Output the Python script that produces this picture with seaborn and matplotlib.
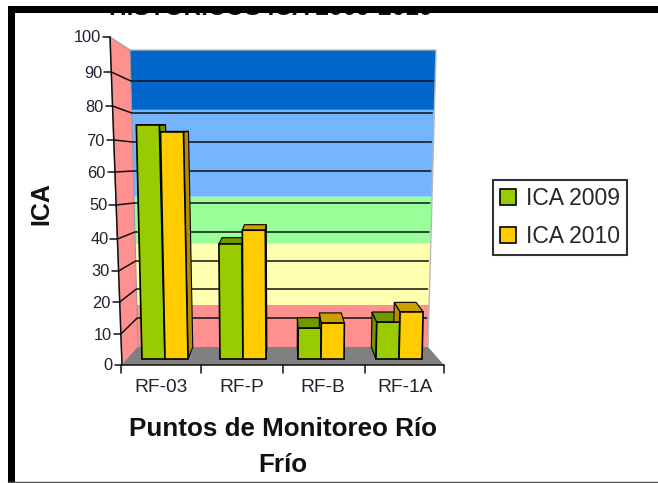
import numpy as np
import pandas as pd
import matplotlib
matplotlib.use("Agg")
import matplotlib.pyplot as plt
from matplotlib.patches import Polygon, Rectangle
from matplotlib.transforms import Affine2D
import seaborn as sns

sns.set_style("white")
plt.rcParams['font.family'] = ['Liberation Sans', 'DejaVu Sans']

# Data
puntos = ['RF-03', 'RF-P', 'RF-B', 'RF-1A']
ica_2009 = [73.6, 36.2, 9.7, 11.6]
ica_2010 = [71.4, 40.5, 11.3, 14.8]
series_names = ['ICA 2009', 'ICA 2010']
y_ticks = [0, 10, 20, 30, 40, 50, 60, 70, 80, 90, 100]
band_edges = [0, 14.5, 36, 52, 81, 100]
band_colors = ['#FF9090', '#FFFFB0', '#99FF99', '#75B5FF', '#0066CC']

# Pixel geometry of the fake 3D box
W, H = 658, 483
FRONT_Y = [365, 334, 302, 271, 239, 205, 172, 140, 106, 72, 37]
WALL_Y = [347, 318, 289, 261, 232, 203, 171, 142, 113, 81, 50]
VP = np.array([283.0, 120.0])
DEPTH = 0.05

df = pd.DataFrame({
    'punto': puntos * 2,
    'ica': ica_2009 + ica_2010,
    'serie': [series_names[0]] * 4 + [series_names[1]] * 4,
})

fig = plt.figure(figsize=(W / 100, H / 100), dpi=100, facecolor='white')
bg = fig.add_axes([0, 0, 1, 1], zorder=0)
bg.set_xlim(0, W)
bg.set_ylim(H, 0)
bg.axis('off')

def front_xy(v):
    y = np.interp(v, y_ticks, FRONT_Y)
    return 122 - 12 * (365 - y) / 328, y

def wall_xy(v):
    y = np.interp(v, y_ticks, WALL_Y)
    off = 8 * (347 - y) / 297
    return 138 - off, 428 + off, y

# back wall bands
for lo, hi, c in zip(band_edges[:-1], band_edges[1:], band_colors):
    l0, r0, y0 = wall_xy(lo)
    l1, r1, y1 = wall_xy(hi)
    bg.add_patch(Polygon([(l0, y0), (r0, y0), (r1, y1), (l1, y1)], fc=c, ec='none', zorder=1))
bg.plot([130, 436, 428], [50, 50, 347], color='#b8b8b8', lw=1, zorder=1.5)

# left wall and floor
bg.add_patch(Polygon([(110, 37), (130, 50), (138, 347), (122, 365)], fc='#FF9090', ec='#999999', lw=0.8, zorder=2))
bg.add_patch(Polygon([(122, 365), (444, 365), (428, 347), (138, 347)], fc='#808080', ec='none', zorder=2))

# grid, axis ticks and labels
for v in y_ticks:
    fx, fy = front_xy(v)
    bg.plot([fx - 7, fx], [fy, fy], color='#111111', lw=1.1, zorder=3)
    bg.text(fx - 9, fy + 1, str(v), ha='right', va='center', fontsize=11.8, color='#222233', zorder=3)
    if 0 < v < 100:
        l, r, y = wall_xy(v)
        bg.plot([fx, l, r - 2], [fy, y, y], color='#111111', lw=1.1, zorder=3)
bg.plot([110, 122, 444], [37, 365, 365], color='#111111', lw=1.1, zorder=3)
for x in [121, 201, 283, 365, 444]:
    bg.plot([x, x], [365, 373], color='#111111', lw=1.1, zorder=3)
for x, lab in zip([161, 242, 323, 405], puntos):
    bg.text(x, 388, lab, ha='center', va='center', fontsize=13.8, color='#222233')

# bars on the plane a little behind the front edge
ax = fig.add_axes([126 / W, (H - 359) / H, 312 / W, 318 / H], zorder=1)
ax.patch.set_alpha(0)
sns.barplot(data=df, x='punto', y='ica', hue='serie', order=puntos, hue_order=series_names,
            palette=['#99CC00', '#FFCC00'], saturation=1, width=0.59, gap=0,
            edgecolor='black', linewidth=1.2, ax=ax)
ax.set_xlim(-0.5, 3.5)
ax.set_ylim(0, 100)
ax.axis('off')

side_colors = ['#6F9400', '#B38F00']
top_colors = ['#709900', '#CC9F00']
for cont, side, top in zip(ax.containers, side_colors, top_colors):
    for bar in cont:
        cx = bar.get_x() + bar.get_width() / 2
        px = ax.transData.transform((cx, 0))[0]
        # tilt of the verticals towards the centre of the image
        k = (px - VP[0]) / 145 * 0.027 * (318 / 100) / 78
        tr = Affine2D(np.array([[1, k, 0], [0, 1, 0], [0, 0, 1]], dtype=float)) + ax.transData
        bar.set_transform(tr)
        bar.set_clip_on(False)
        x0, x1, h = bar.get_x(), bar.get_x() + bar.get_width(), bar.get_height()
        corners = tr.transform([(x0, 0), (x1, 0), (x1, h), (x0, h)])
        corners[:, 1] = H - corners[:, 1]
        back = corners + (VP - corners) * DEPTH
        bl, br, tr_c, tl = corners
        bbl, bbr, btr, btl = back
        if px < VP[0]:
            bg.add_patch(Polygon([br, bbr, btr, tr_c], fc=side, ec='black', lw=0.8, zorder=4))
        else:
            bg.add_patch(Polygon([bl, bbl, btl, tl], fc=side, ec='black', lw=0.8, zorder=4))
        bg.add_patch(Polygon([tl, tr_c, btr, btl], fc=top, ec='black', lw=0.8, zorder=4))

sns.move_legend(ax, loc='upper left', bbox_to_anchor=(493 / W, 1 - 180 / H), bbox_transform=fig.transFigure,
                title=None, frameon=True, fancybox=False, fontsize=16.5, edgecolor='#333333',
                framealpha=1, handlelength=0.7, handleheight=0.7, handletextpad=0.4,
                labelspacing=0.62, borderpad=0.32, borderaxespad=0)
ax.get_legend().get_frame().set_linewidth(1.5)

# axis titles
bg.text(41, 204, 'ICA', rotation=90, ha='center', va='center', fontsize=18, fontweight='bold', color='#111111')
bg.text(283, 429.5, 'Puntos de Monitoreo Río', ha='center', va='center', fontsize=18.7, fontweight='bold', color='#111111')
bg.text(283, 464.5, 'Frío', ha='center', va='center', fontsize=18.7, fontweight='bold', color='#111111')

# title cut off by the frame of the screenshot
bg.text(270.5, 15, 'HISTÓRICOS ICA 2009-2010', ha='center', va='baseline', fontsize=17.6, fontweight='bold', color='#111111', zorder=5)
bg.add_patch(Rectangle((8, -5), W - 8, 17.5, fc='white', ec='none', zorder=6))
bg.add_patch(Rectangle((0, -5), 8, H + 5, fc='white', ec='none', zorder=6))
bg.add_patch(Rectangle((8, 6), W - 8, 6.5, fc='black', ec='none', zorder=7))
bg.add_patch(Rectangle((8, 6), 6.5, H - 6, fc='black', ec='none', zorder=7))
bg.plot([8, W], [482, 482], color='#555555', lw=1, zorder=7)

fig.savefig('out.png', dpi=100, facecolor='white')
